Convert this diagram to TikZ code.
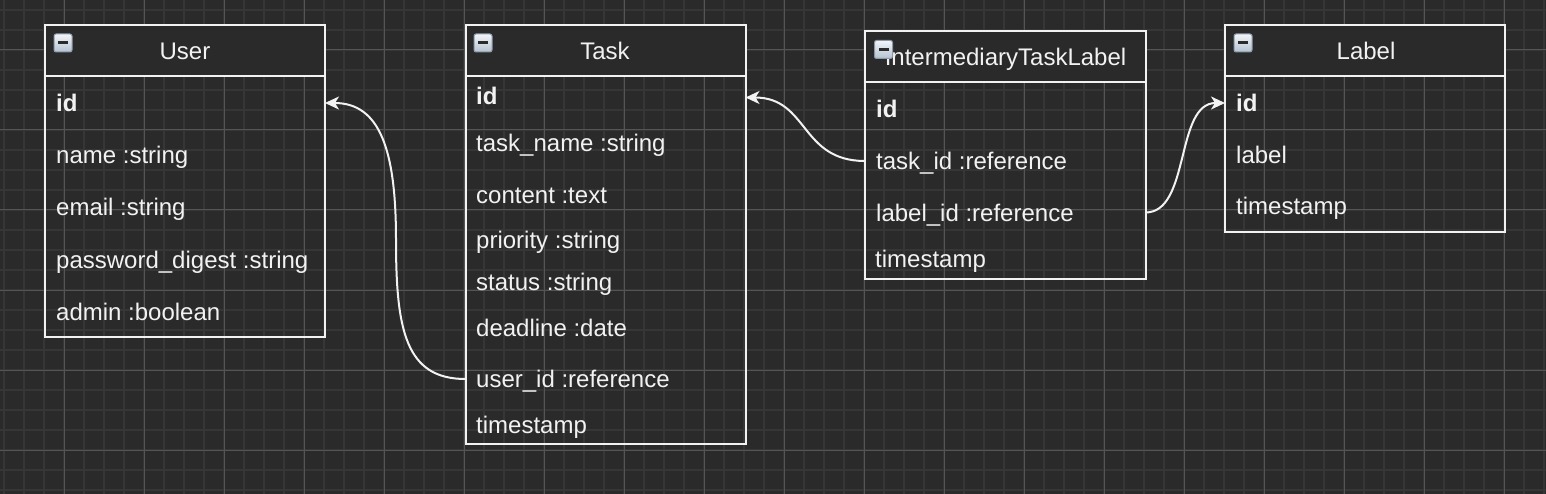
\documentclass[tikz,border=0pt]{standalone}
\usepackage{fontspec}
\setmainfont{Liberation Sans}
\usetikzlibrary{arrows.meta}
\definecolor{bgc}{HTML}{2A2A2A}
\definecolor{minorc}{HTML}{363636}
\definecolor{majorc}{HTML}{555555}
\definecolor{linec}{HTML}{F2F2F2}
\definecolor{iconborder}{HTML}{8A9AAC}
\definecolor{icontop}{HTML}{F2F5F8}
\definecolor{iconbot}{HTML}{B4C2D0}
\tikzset{
  minorgrid/.style={draw=minorc, line width=1.6pt},
  majorgrid/.style={draw=majorc, line width=1pt},
  boxline/.style={draw=linec, line width=2pt, rectangle, inner sep=0pt, outer sep=0pt, anchor=north west},
  headfill/.style={boxline, fill=bgc},
  rowtext/.style={anchor=base west, inner sep=0pt, text=linec, font=\fontsize{24}{28}\selectfont},
  titletext/.style={anchor=base, inner sep=0pt, text=linec, font=\fontsize{24}{28}\selectfont},
  keytext/.style={rowtext, font=\fontsize{24}{28}\selectfont\bfseries},
  iconbox/.style={draw=iconborder, line width=1pt, rounded corners=2pt, top color=icontop, bottom color=iconbot},
  iconbar/.style={fill=bgc},
  rel/.style={draw=linec, line width=2pt, -{Stealth[length=14pt, width=13pt, inset=4pt]}},
}
\newcommand{\eicon}[2]{%
  \path[iconbox] (#1,#2) rectangle ++(18,18);
  \path[iconbar] (#1+4,#2+7.5) rectangle ++(10,3);
}
\begin{document}
\begin{tikzpicture}[x=1pt, y=-1pt]
\useasboundingbox (0,0) rectangle (1546,494);
\fill[bgc] (0,0) rectangle (1546,494);
% grid
\foreach \i in {4,24,...,1544} \draw[minorgrid] (\i,0) -- (\i,494);
\foreach \j in {10,30,...,490} \draw[minorgrid] (0,\j) -- (1546,\j);
\foreach \i in {64,144,...,1504} \draw[majorgrid] (\i,0) -- (\i,494);
\foreach \j in {50,130,...,450} \draw[majorgrid] (0,\j) -- (1546,\j);

% ---------- User ----------
\node[boxline, minimum width=280pt, minimum height=260pt] (userbody) at (45,76.5) {};
\node[headfill, minimum width=280pt, minimum height=51.5pt] (userhead) at (45,25) {};
\eicon{54}{34}
\node[titletext] (usertitle) at (185,60) {User};
\node[keytext] (uid) at (56,111.5) {id};
\node[rowtext] (uname) at (56,164) {name :string};
\node[rowtext] (uemail) at (56,216) {email :string};
\node[rowtext] (upass) at (56,268.5) {password\_digest :string};
\node[rowtext] (uadmin) at (56,320) {admin :boolean};

% ---------- Task ----------
\node[boxline, minimum width=280pt, minimum height=368pt] (taskbody) at (465.5,76) {};
\node[headfill, minimum width=280pt, minimum height=51pt] (taskhead) at (465.5,25) {};
\eicon{474}{34}
\node[titletext] (tasktitle) at (605,60) {Task};
\node[keytext] (tid) at (476,105) {id};
\node[rowtext] (tname) at (476,152) {task\_name :string};
\node[rowtext] (tcontent) at (476,203.5) {content :text};
\node[rowtext] (tprio) at (476,249) {priority :string};
\node[rowtext] (tstatus) at (476,290.5) {status :string};
\node[rowtext] (tdead) at (476,336) {deadline :date};
\node[rowtext] (tuid) at (476,387.5) {user\_id :reference};
\node[rowtext] (tstamp) at (476,433.5) {timestamp};

% ---------- IntermediaryTaskLabel ----------
\node[boxline, minimum width=280.5pt, minimum height=196pt] (interbody) at (865,82.5) {};
\node[headfill, minimum width=280.5pt, minimum height=51.5pt] (interhead) at (865,31) {};
\node[titletext] (intertitle) at (1005.5,65.5) {IntermediaryTaskLabel};
\eicon{874.5}{40.5}
\node[keytext] (iid) at (876,117.5) {id};
\node[rowtext] (itask) at (876,169.5) {task\_id :reference};
\node[rowtext] (ilabel) at (876,221.5) {label\_id :reference};
\node[rowtext] (istamp) at (875,267.5) {timestamp};

% ---------- Label ----------
\node[boxline, minimum width=280pt, minimum height=156pt] (labelbody) at (1225,76.5) {};
\node[headfill, minimum width=280pt, minimum height=51.5pt] (labelhead) at (1225,25) {};
\eicon{1234}{34}
\node[titletext] (labeltitle) at (1366,60) {Label};
\node[keytext] (lid) at (1236,111.5) {id};
\node[rowtext] (llabel) at (1236,163.5) {label};
\node[rowtext] (lstamp) at (1236,215) {timestamp};

% ---------- connectors ----------
\coordinate (bend1) at (396,240);
\draw[rel] (taskbody.west |- 0,379) .. controls +(-60,0) and +(0,90) .. (bend1)
  .. controls +(0,-90) and +(55,0) .. (userbody.east |- 0,103);
\draw[rel] (interbody.west |- 0,161) .. controls +(-65,0) and +(63,0) .. (taskbody.east |- 0,97.5);
\draw[rel] (interbody.east |- 0,212.5) .. controls +(45,0) and +(-50,0) .. (labelbody.west |- 0,103);
\end{tikzpicture}
\end{document}
